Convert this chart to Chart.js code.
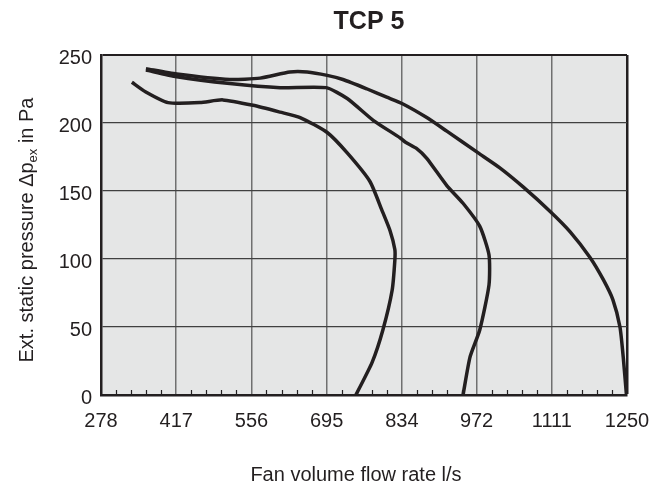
<!DOCTYPE html>
<html>
<head>
<meta charset="utf-8">
<title>TCP 5</title>
<script src="https://cdn.jsdelivr.net/npm/chart.js@4/dist/chart.umd.min.js"></script>
<style>
  html, body { margin: 0; padding: 0; background: #fff; }
  #wrap { width: 667px; height: 488px; }
</style>
</head>
<body>
<div id="wrap"><canvas id="myChart" width="667" height="488"></canvas></div>
<script>
// axis ticks
var flowTicks = [278, 417, 556, 695, 834, 972, 1111, 1250];
var pressureMin = 0;
var pressureMax = 250;
var pressureStep = 50;

// inner curve
var curve1Flow     = [335, 360, 402, 461, 503, 559, 609, 646, 696, 733, 775, 797, 812, 821, 821, 816, 799, 779, 749];
var curve1Pressure = [230, 223, 215, 215, 217, 213, 208, 204, 193, 178, 157, 136, 121, 107,  99,  77,  48,  24,   0];

// middle curve
var curve2Flow     = [361, 418, 516, 609, 694, 733, 781, 831, 840, 862, 880, 917, 947, 978, 995, 995, 978, 960, 947];
var curve2Pressure = [239, 234, 229, 226, 226, 218, 202, 189, 186, 181, 174, 154, 141, 124, 103,  81,  48,  28,   0];

// outer curve
var curve3Flow     = [361, 418, 516, 572, 627, 659, 696, 725, 770, 806, 836, 880, 917, 975, 1015, 1058, 1108, 1145, 1182, 1206, 1224, 1237, 1243, 1249];
var curve3Pressure = [240, 236, 232, 233, 237.5, 237.5, 235, 232, 225, 219, 214, 204, 194, 178, 167, 153, 135, 120, 101, 85, 70, 50, 28, 0];

var FONT = '"Liberation Sans", Arial, sans-serif';
var INK = '#231f20';

function toPoints(xs, ys) {
	var pts = [];
	for (var i = 0; i < xs.length; i++) {
		pts.push({x: xs[i], y: ys[i]});
	}
	return pts;
}

function getDataset(xs, ys) {
	return {
		data: toPoints(xs, ys),
		showLine: true,
		fill: false,
		borderColor: INK,
		borderWidth: 3.5,
		pointRadius: 0,
		tension: 0.2
	};
}

var chartDecor = {
	id: 'chartDecor',
	beforeDraw: function (chart) {
		var ctx = chart.ctx, a = chart.chartArea;
		ctx.save();
		ctx.fillStyle = '#e5e6e6';
		ctx.fillRect(a.left, a.top, a.right - a.left, a.bottom - a.top);
		ctx.restore();
	},
	afterDraw: function (chart) {
		var ctx = chart.ctx, a = chart.chartArea;
		var xs = chart.scales.x;
		ctx.save();
		// minor ticks along the bottom
		ctx.strokeStyle = INK;
		ctx.lineWidth = 1.2;
		ctx.beginPath();
		for (var i = 0; i < flowTicks.length - 1; i++) {
			var v0 = flowTicks[i], v1 = flowTicks[i + 1];
			for (var k = 1; k < 5; k++) {
				var px = Math.round(xs.getPixelForValue(v0 + (v1 - v0) * k / 5)) + 0.5;
				ctx.moveTo(px, a.bottom);
				ctx.lineTo(px, a.bottom - 5);
			}
		}
		ctx.stroke();

		ctx.fillStyle = INK;
		// title
		ctx.font = 'bold 25px ' + FONT;
		ctx.textAlign = 'center';
		ctx.textBaseline = 'alphabetic';
		ctx.fillText('TCP 5', 369, 29);

		// x title
		ctx.font = '20px ' + FONT;
		ctx.fillText('Fan volume flow rate l/s', 356, 481);

		// y title with subscript
		var p1 = 'Ext. static pressure \u0394p', p2 = 'ex', p3 = ' in Pa';
		ctx.translate(33, 230);
		ctx.rotate(-Math.PI / 2);
		ctx.textAlign = 'left';
		ctx.font = '20px ' + FONT;
		var w1 = ctx.measureText(p1).width, w3 = ctx.measureText(p3).width;
		ctx.font = '13px ' + FONT;
		var w2 = ctx.measureText(p2).width;
		var x0 = -(w1 + w2 + w3) / 2;
		ctx.font = '20px ' + FONT;
		ctx.fillText(p1, x0, 0);
		ctx.font = '13px ' + FONT;
		ctx.fillText(p2, x0 + w1, 4);
		ctx.font = '20px ' + FONT;
		ctx.fillText(p3, x0 + w1 + w2, 0);
		ctx.restore();
	}
};

var myChart = new Chart(document.getElementById('myChart').getContext('2d'), {
	type: 'scatter',
	data: {
		datasets: [
			getDataset(curve1Flow, curve1Pressure),
			getDataset(curve2Flow, curve2Pressure),
			getDataset(curve3Flow, curve3Pressure)
		]
	},
	options: {
		responsive: false,
		animation: false,
		layout: { padding: { top: 55, right: 40, left: 0, bottom: 0 } },
		plugins: {
			legend: { display: false },
			title: { display: false },
			tooltip: { enabled: false }
		},
		scales: {
			x: {
				type: 'linear',
				min: flowTicks[0],
				max: flowTicks[flowTicks.length - 1],
				afterBuildTicks: function (scale) {
					scale.ticks = flowTicks.map(function (v) { return {value: v}; });
				},
				afterFit: function (scale) { scale.height = 93; },
				border: { display: true, color: INK, width: 2.5 },
				grid: {
					drawTicks: false,
					color: function (c) { return c.index === flowTicks.length - 1 ? INK : '#707070'; },
					lineWidth: function (c) { return c.index === flowTicks.length - 1 ? 2.5 : 1.5; }
				},
				ticks: {
					autoSkip: false,
					maxRotation: 0,
					padding: 14,
					color: INK,
					font: { family: FONT, size: 20 },
					callback: function (v) { return String(v); }
				}
			},
			y: {
				min: pressureMin,
				max: pressureMax,
				afterFit: function (scale) { scale.width = 101; },
				border: { display: true, color: INK, width: 2.5 },
				grid: {
					drawTicks: false,
					color: function (c) { return c.tick && c.tick.value === pressureMax ? INK : '#404040'; },
					lineWidth: function (c) { return c.tick && c.tick.value === pressureMax ? 2 : 1.2; }
				},
				ticks: {
					stepSize: pressureStep,
					padding: 9,
					labelOffset: 3,
					color: INK,
					font: { family: FONT, size: 20 }
				}
			}
		}
	},
	plugins: [chartDecor]
});
</script>
</body>
</html>
